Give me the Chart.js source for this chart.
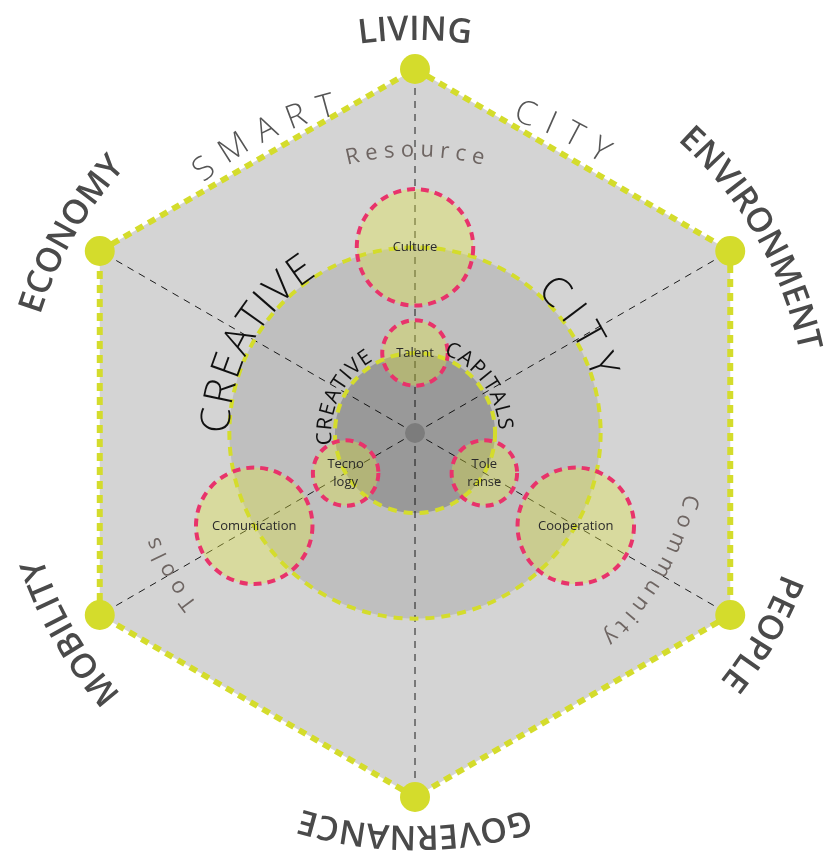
<!DOCTYPE html>
<html lang="en">
<head>
    <meta charset="UTF-8">
    <title>Smart City / Creative City</title>
    <script src="https://cdn.jsdelivr.net/npm/chart.js"></script>
    <style>
        body { margin: 0; background: #fff; }
        #wrap { width: 825px; height: 859px; position: relative; }
    </style>
</head>
<body>
    <div id="wrap"><canvas id="cityChart"></canvas></div>

    <script>
        // Six smart city axes (clockwise from top)
        const axisLabels = ['LIVING', 'ENVIRONMENT', 'PEOPLE', 'GOVERNANCE', 'MOBILITY', 'ECONOMY'];
        const axisValues = [100, 100, 100, 100, 100, 100];

        // Creative city rings (value on the radial scale)
        const ringNames = ['CREATIVE CITY', 'CREATIVE CAPITALS'];
        const ringValues = [51, 22];

        // Bubbles sitting on the axes
        const bubbleLabels = ['Culture', 'Cooperation', 'Comunication', 'Talent', 'Tole\nranse', 'Tecno\nlogy'];
        const bubbleAxis = [0, 2, 4, 0, 2, 4];
        const bubbleValues = [51, 51, 51, 22, 22, 22];
        const bubbleSizes = [16, 16, 16, 9, 9, 9];

        const YELLOW = '#d4dc2c';
        const PINK = '#e8336b';

        // curved texts: text, angle (deg from top, clockwise), baseline value, font, colour, letter spacing
        const arcTexts = [
            ['SMART', -27, 90, '300 33px "Open Sans"', '#555', 12],
            ['CITY', 26, 90, '300 33px "Open Sans"', '#555', 12],
            ['Resource', 0, 76, '400 22px "Open Sans"', '#6e6562', 6],
            ['Community', 120, 76, '400 22px "Open Sans"', '#6e6562', 6],
            ['Tools', 240, 76, '400 22px "Open Sans"', '#6e6562', 6],
            ['CREATIVE', -61, 51, '300 41px "Open Sans"', '#111', 2],
            ['CITY', 57, 51, '300 41px "Open Sans"', '#111', 9],
            ['CREATIVE', -64, 23, '400 21px "Open Sans"', '#111', 1],
            ['CAPITALS', 54, 23, '400 21px "Open Sans"', '#111', 1]
        ];

        function drawArcText(ctx, scale, text, angleDeg, value, font, color, spacing) {
            const r = scale.getDistanceFromCenterForValue(value);
            ctx.save();
            ctx.font = font;
            ctx.fillStyle = color;
            ctx.textAlign = 'center';
            ctx.textBaseline = 'alphabetic';
            const chars = [...text];
            const widths = chars.map(c => ctx.measureText(c).width);
            const total = widths.reduce((a, b) => a + b, 0) + spacing * (chars.length - 1);
            let a = angleDeg * Math.PI / 180 - total / 2 / r;
            chars.forEach((c, i) => {
                a += widths[i] / 2 / r;
                ctx.save();
                ctx.translate(scale.xCenter, scale.yCenter);
                ctx.rotate(a);
                ctx.fillText(c, 0, -r);
                ctx.restore();
                a += (widths[i] / 2 + spacing) / r;
            });
            ctx.restore();
        }

        function circleAt(ctx, x, y, rad, fill, stroke, dash) {
            ctx.save();
            ctx.beginPath();
            ctx.arc(x, y, rad, 0, Math.PI * 2);
            if (fill) { ctx.fillStyle = fill; ctx.fill(); }
            if (stroke) {
                ctx.strokeStyle = stroke;
                ctx.lineWidth = 4;
                ctx.setLineDash(dash);
                ctx.stroke();
            }
            ctx.restore();
        }

        const creativePlugin = {
            id: 'creative',
            afterDatasetsDraw(chart) {
                const ctx = chart.ctx;
                const r = chart.scales.r;
                const cx = r.xCenter, cy = r.yCenter;

                // rings
                circleAt(ctx, cx, cy, r.getDistanceFromCenterForValue(ringValues[0]), 'rgba(0,0,0,0.10)');
                circleAt(ctx, cx, cy, r.getDistanceFromCenterForValue(ringValues[1]), 'rgba(0,0,0,0.20)');
                circleAt(ctx, cx, cy, 10, '#7c7c7c');

                // bubbles
                bubbleLabels.forEach((label, i) => {
                    const p = r.getPointPositionForValue(bubbleAxis[i], bubbleValues[i]);
                    const rad = r.getDistanceFromCenterForValue(bubbleSizes[i]);
                    circleAt(ctx, p.x, p.y, rad, 'rgba(222,228,60,0.36)');
                });
                ringValues.forEach(v => {
                    circleAt(ctx, cx, cy, r.getDistanceFromCenterForValue(v), null, YELLOW, [9, 7]);
                });
                bubbleLabels.forEach((label, i) => {
                    const p = r.getPointPositionForValue(bubbleAxis[i], bubbleValues[i]);
                    const rad = r.getDistanceFromCenterForValue(bubbleSizes[i]);
                    circleAt(ctx, p.x, p.y, rad, null, PINK, [8, 6]);
                    ctx.save();
                    ctx.font = '13px "Open Sans"';
                    ctx.fillStyle = '#2a2a2a';
                    ctx.textAlign = 'center';
                    ctx.textBaseline = 'middle';
                    const lines = label.split('\n');
                    lines.forEach((ln, k) => {
                        ctx.fillText(ln, p.x, p.y + (k - (lines.length - 1) / 2) * 18);
                    });
                    ctx.restore();
                });

                arcTexts.forEach(t => drawArcText(ctx, r, t[0], t[1], t[2], t[3], t[4], t[5]));
            },
            afterDraw(chart) {
                const r = chart.scales.r;
                axisLabels.forEach((label, i) => {
                    drawArcText(chart.ctx, r, label, i * 60, 108, '600 34px "Open Sans"', '#4a4a4a', 0);
                });
            }
        };

        new Chart(document.getElementById('cityChart'), {
            type: 'radar',
            data: {
                labels: axisLabels,
                datasets: [{
                    data: axisValues,
                    backgroundColor: 'rgba(0,0,0,0.17)',
                    borderColor: YELLOW,
                    borderWidth: 6,
                    borderDash: [8, 6],
                    pointRadius: 15,
                    pointBackgroundColor: YELLOW,
                    pointBorderWidth: 0,
                    fill: true
                }]
            },
            options: {
                responsive: true,
                maintainAspectRatio: false,
                animation: false,
                layout: { padding: { left: 51, right: 46, top: 69, bottom: 62 } },
                plugins: { legend: { display: false }, tooltip: { enabled: false } },
                scales: {
                    r: {
                        min: 0,
                        max: 100,
                        ticks: { display: false },
                        grid: { display: false },
                        pointLabels: { display: false },
                        angleLines: { display: true, color: '#222', lineWidth: 1, borderDash: [7, 6] }
                    }
                }
            },
            plugins: [creativePlugin]
        });
    </script>
</body>
</html>
